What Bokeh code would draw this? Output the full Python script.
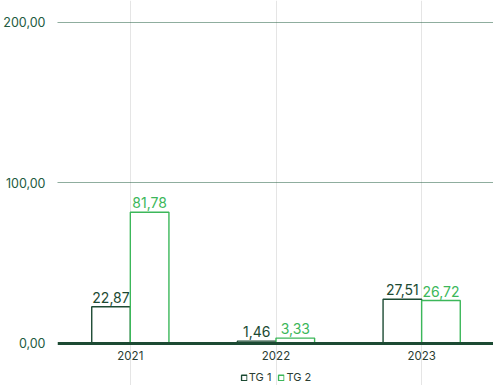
from bokeh.plotting import figure
from bokeh.models import (ColumnDataSource, FactorRange, Range1d, FixedTicker,
                          CustomJSTickFormatter, LabelSet, Span, Legend, LegendItem)
from bokeh.core.properties import value
from bokeh.transform import dodge
from bokeh.embed import file_html
from bokeh.resources import INLINE

years = ["2021", "2022", "2023"]
tg1 = [22.87, 1.46, 27.51]
tg2 = [81.78, 3.33, 26.72]
series_names = ["TG 1", "TG 2"]
y_ticks = [0, 100, 200]

DARK = "#1c4a33"
GREEN = "#3cb75a"
FONT = "Inter"

def fmt(v):
    return f"{v:.2f}".replace(".", ",")

src = ColumnDataSource(dict(
    year=years, tg1=tg1, tg2=tg2,
    tg1_lbl=[fmt(v) for v in tg1], tg2_lbl=[fmt(v) for v in tg2],
    base=[0] * len(years),
))

p = figure(frame_width=437, frame_height=385, x_range=FactorRange(*years, range_padding=0),
           y_range=Range1d(-26.2, 213.7), output_backend="svg", toolbar_location=None,
           x_axis_location=None,
           min_border_left=56, min_border_right=0, min_border_top=0, min_border_bottom=0)
p.outline_line_color = None
p.background_fill_color = "white"

w = 0.265
r1 = p.vbar(x=dodge("year", -w / 2, range=p.x_range), top="tg1", bottom=0, width=w, source=src,
            fill_color="white", line_color=DARK, line_width=1.4)
r2 = p.vbar(x=dodge("year", w / 2, range=p.x_range), top="tg2", bottom=0, width=w, source=src,
            fill_color="white", line_color=GREEN, line_width=1.4)

for col, lbl, off, color in [("tg1", "tg1_lbl", -w / 2, DARK), ("tg2", "tg2_lbl", w / 2, GREEN)]:
    ls = LabelSet(x=dodge("year", off, range=p.x_range), y=col, text=lbl, source=src,
                  text_align="center", text_baseline="bottom", y_offset=4,
                  text_font=value(FONT), text_font_size="14px", text_color=color)
    p.add_layout(ls)

# baseline at zero
p.add_layout(Span(location=0, dimension="width", line_color=DARK, line_width=3))

# category labels under the baseline
p.add_layout(LabelSet(x="year", y="base", text="year", source=src,
                      text_align="center", text_baseline="top", y_offset=-8,
                      text_font=value(FONT), text_font_size="11.5px", text_color="#2b3d33"))

# y axis
p.yaxis.ticker = FixedTicker(ticks=y_ticks)
p.yaxis.formatter = CustomJSTickFormatter(code="return tick.toFixed(2).replace('.', ',');")
p.yaxis.axis_line_color = None
p.yaxis.major_tick_line_color = None
p.yaxis.minor_tick_line_color = None
p.yaxis.major_label_text_font = FONT
p.yaxis.major_label_text_font_size = "12.5px"
p.yaxis.major_label_text_color = "#215a40"
p.yaxis.major_label_standoff = 6

p.ygrid.ticker = FixedTicker(ticks=[t for t in y_ticks if t > 0])
p.ygrid.grid_line_color = "#1f5a3d"
p.ygrid.grid_line_dash = "1 1"
p.ygrid.grid_line_width = 1

legend = Legend(items=[LegendItem(label=series_names[0], renderers=[r1]),
                       LegendItem(label=series_names[1], renderers=[r2])],
                location="bottom_center", orientation="horizontal",
                label_text_font=FONT, label_text_font_size="11px", label_text_color="#2b3d33",
                label_height=10, glyph_width=7, glyph_height=7, label_standoff=2,
                spacing=6, padding=1, margin=1,
                border_line_color=None, background_fill_alpha=0)
p.add_layout(legend)

open("out.html", "w").write(file_html(p, INLINE))
